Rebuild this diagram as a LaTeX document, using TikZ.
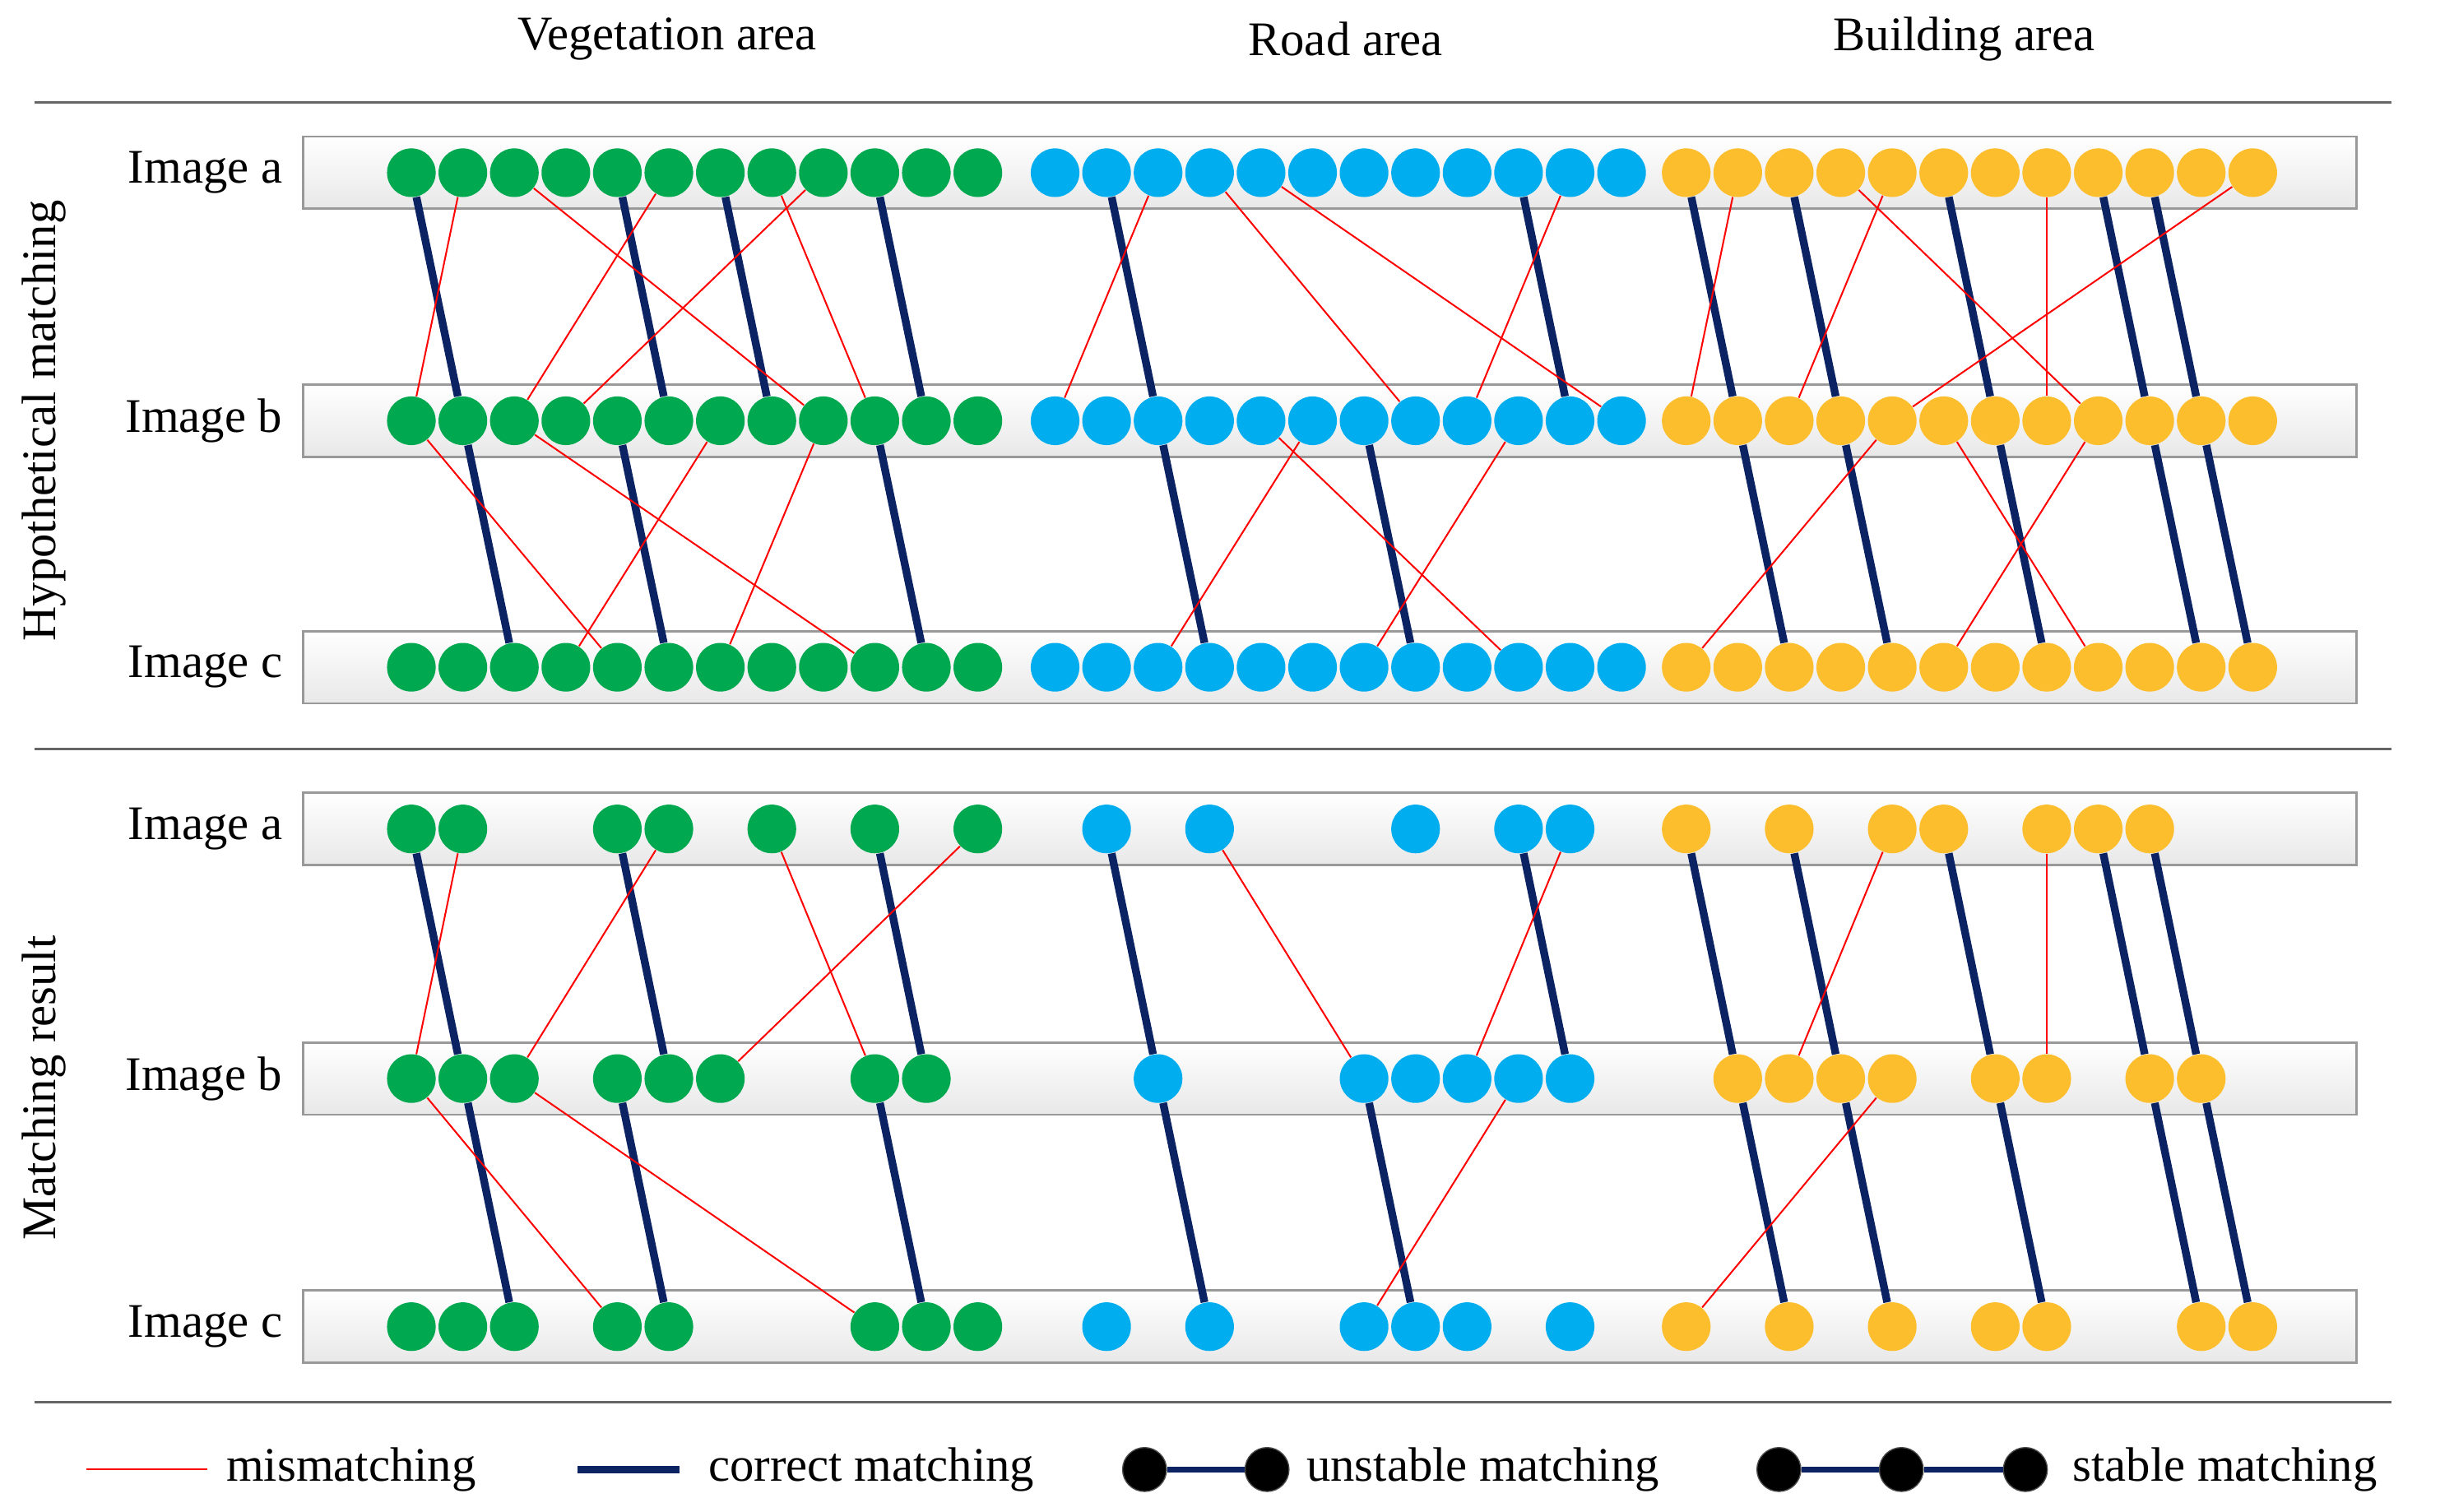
\documentclass[tikz,border=0pt]{standalone}
\usepackage{fontspec}
\setmainfont{Liberation Serif}
\definecolor{vgreen}{RGB}{0,168,80}
\definecolor{rblue}{RGB}{0,174,239}
\definecolor{byellow}{RGB}{253,190,45}
\definecolor{navy}{RGB}{11,35,99}
\tikzset{
  pt/.style={circle,inner sep=0pt,minimum size=0.62cm},
  bar/.style={draw=gray!80,line width=0.8pt,top color=white,bottom color=gray!18},
  mis/.style={red,line width=0.6pt},
  cor/.style={navy,line width=2.8pt},
  txt/.style={text=black,font=\fontsize{17.5}{20}\selectfont}
}
\begin{document}
\begin{tikzpicture}[x=0.02cm,y=-0.02cm]
    \useasboundingbox (0,0) rectangle (1563,963);

    % headings and rules
    \node[txt] (hveg) at (425,25) {Vegetation area};
    \node[txt] (hroad) at (857,25) {Road area};
    \node[txt] (hbuild) at (1251,25) {Building area};
    \draw[gray!80!black,line width=0.9pt] (22,65) -- (1523,65);
    \draw[gray!80!black,line width=0.9pt] (22,477) -- (1523,477);
    \draw[gray!80!black,line width=0.9pt] (22,893) -- (1523,893);
    \node[txt,rotate=90] (hyp) at (28,268) {Hypothetical matching};
    \node[txt,rotate=90] (res) at (28,693) {Matching result};

    % hypothetical matching: all points
    \foreach \r/\y in {a/110,b/268,c/425} {
      \node[bar,minimum width=1308*0.02cm,minimum height=0.92cm] (t\r bar) at (847,\y) {};
      \node[txt,anchor=east] (t\r lab) at (186,\y) {Image \r};
      \foreach \g/\gx/\col in {G/262/vgreen,B/672/rblue,Y/1074/byellow}
        \foreach \i in {1,...,12}
          \node[pt,fill=\col] (t\r\g\i) at ({\gx+(\i-1)*32.8},\y) {};
    }

    % matching result: kept points
    \foreach \r/\y/\gl/\bl/\yl in {
        a/528/{1,2,5,6,8,10,12}/{2,4,8,10,11}/{1,3,5,6,8,9,10},
        b/687/{1,2,3,5,6,7,10,11}/{3,7,8,9,10,11}/{2,3,4,5,7,8,10,11},
        c/845/{1,2,3,5,6,10,11,12}/{2,4,7,8,9,11}/{1,3,5,7,8,11,12}} {
      \node[bar,minimum width=1308*0.02cm,minimum height=0.92cm] (m\r bar) at (847,\y) {};
      \node[txt,anchor=east] (m\r lab) at (186,\y) {Image \r};
      \foreach \i in \gl \node[pt,fill=vgreen] (m\r G\i) at ({262+(\i-1)*32.8},\y) {};
      \foreach \i in \bl \node[pt,fill=rblue] (m\r B\i) at ({672+(\i-1)*32.8},\y) {};
      \foreach \i in \yl \node[pt,fill=byellow] (m\r Y\i) at ({1074+(\i-1)*32.8},\y) {};
    }

    % hypothetical matches
    \foreach \p/\q in {aG1/bG2,aG5/bG6,aG7/bG8,aG10/bG11,aB2/bB3,aB10/bB11,
        aY1/bY2,aY3/bY4,aY6/bY7,aY9/bY10,aY10/bY11,
        bG2/cG3,bG5/cG6,bG10/cG11,bB3/cB4,bB7/cB8,
        bY2/cY3,bY4/cY5,bY7/cY8,bY10/cY11,bY11/cY12}
      \draw[cor] (t\p) -- (t\q);
    \foreach \p/\q in {aG2/bG1,aG3/bG9,aG6/bG3,aG9/bG4,aG8/bG10,
        aB3/bB1,aB4/bB8,aB5/bB12,aB11/bB9,
        aY2/bY1,aY5/bY3,aY4/bY9,aY8/bY8,aY12/bY5,
        bG1/cG5,bG3/cG10,bG7/cG4,bG9/cG7,
        bB6/cB3,bB5/cB10,bB10/cB7,bY5/cY1,bY6/cY9,bY9/cY6}
      \draw[mis] (t\p) -- (t\q);

    % kept matches
    \foreach \p/\q in {aG1/bG2,aG5/bG6,aG10/bG11,aB2/bB3,aB10/bB11,
        aY1/bY2,aY3/bY4,aY6/bY7,aY9/bY10,aY10/bY11,
        bG2/cG3,bG5/cG6,bG10/cG11,bB3/cB4,bB7/cB8,
        bY2/cY3,bY4/cY5,bY7/cY8,bY10/cY11,bY11/cY12}
      \draw[cor] (m\p) -- (m\q);
    \foreach \p/\q in {aG2/bG1,aG6/bG3,aG8/bG10,aG12/bG7,aB4/bB7,aB11/bB9,
        aY5/bY3,aY8/bY8,bG1/cG5,bG3/cG10,bB10/cB7,bY5/cY1}
      \draw[mis] (m\p) -- (m\q);

    % legend
    \coordinate (l1) at (55,936);
    \coordinate (l2) at (132,936);
    \draw[mis] (l1) -- (l2);
    \node[txt,anchor=west] (lmis) at (138,936) {mismatching};
    \coordinate (l3) at (368,936);
    \coordinate (l4) at (433,936);
    \draw[cor] (l3) -- (l4);
    \node[txt,anchor=west] (lcor) at (445,936) {correct matching};
    \node[pt,fill=black,draw=gray!60!black,minimum size=0.56cm] (u1) at (729,936) {};
    \node[pt,fill=black,draw=gray!60!black,minimum size=0.56cm] (u2) at (807,936) {};
    \draw[navy,line width=2pt] (u1) -- (u2);
    \node[txt,anchor=west] (luns) at (826,936) {unstable matching};
    \node[pt,fill=black,draw=gray!60!black,minimum size=0.56cm] (s1) at (1133,936) {};
    \node[pt,fill=black,draw=gray!60!black,minimum size=0.56cm] (s2) at (1211,936) {};
    \node[pt,fill=black,draw=gray!60!black,minimum size=0.56cm] (s3) at (1290,936) {};
    \draw[navy,line width=2pt] (s1) -- (s2) -- (s3);
    \node[txt,anchor=west] (lsta) at (1314,936) {stable matching};
\end{tikzpicture}
\end{document}
